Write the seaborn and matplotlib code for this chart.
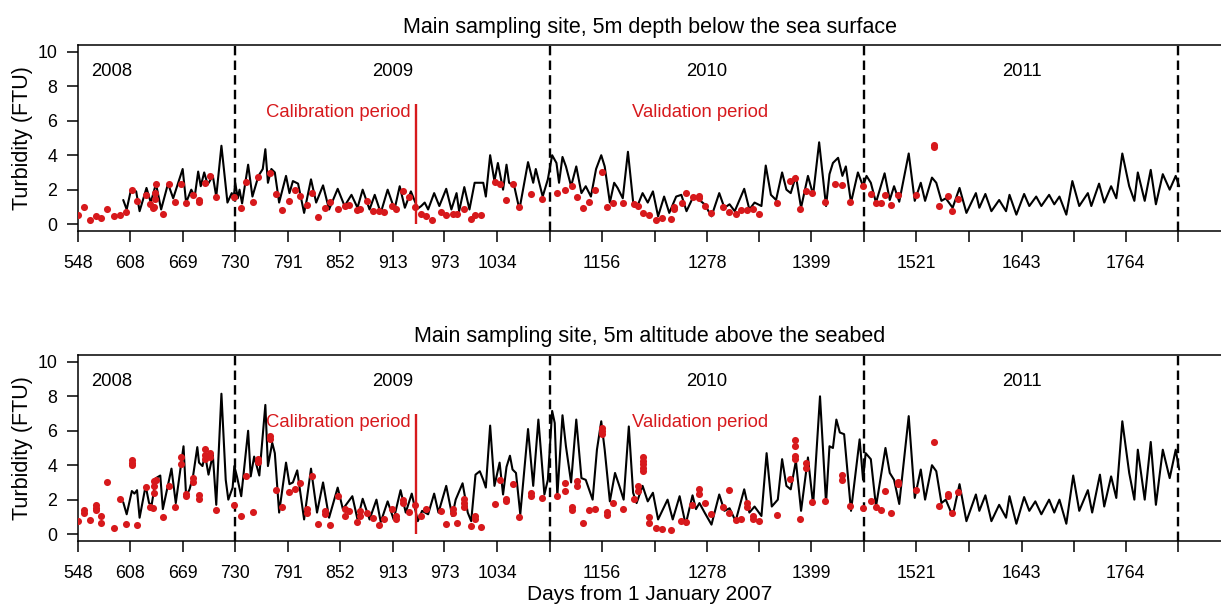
import pandas as pd
import seaborn as sns
import matplotlib.pyplot as plt

# Modelled turbidity, 5m below the surface (day from 1 Jan 2007, FTU)
surf_day = [600, 604, 609, 615, 619, 627, 632, 638, 644, 652, 658, 669, 673, 679, 683, 687, 690, 694,
            698, 704, 708, 714, 721, 726, 728, 730, 733, 735, 738, 745, 750, 757, 762, 765, 768, 772,
            776, 781, 789, 793, 797, 803, 810, 818, 824, 832, 839, 849, 857, 865, 872, 878, 886, 892,
            899, 907, 915, 921, 927, 934, 942, 946, 950, 954, 961, 967, 975, 981, 987, 990, 996, 1002,
            1008, 1014, 1018, 1021, 1026, 1031, 1035, 1041, 1045, 1048, 1054, 1060, 1070, 1076, 1079,
            1087, 1093, 1098, 1103, 1106, 1110, 1114, 1120, 1126, 1132, 1137, 1143, 1149, 1155, 1159,
            1165, 1170, 1174, 1180, 1186, 1192, 1197, 1203, 1209, 1215, 1221, 1228, 1234, 1242, 1248,
            1254, 1261, 1265, 1269, 1275, 1283, 1292, 1298, 1304, 1310, 1321, 1327, 1333, 1341, 1346,
            1352, 1358, 1365, 1370, 1375, 1381, 1387, 1395, 1401, 1408, 1416, 1420, 1424, 1430, 1435,
            1439, 1445, 1453, 1459, 1463, 1468, 1474, 1484, 1490, 1495, 1501, 1512, 1519, 1526, 1531,
            1539, 1544, 1550, 1555, 1563, 1571, 1579, 1590, 1594, 1601, 1608, 1617, 1625, 1629, 1637,
            1646, 1652, 1660, 1666, 1675, 1681, 1687, 1695, 1702, 1710, 1720, 1724, 1733, 1739, 1747,
            1753, 1760, 1768, 1774, 1778, 1786, 1793, 1799, 1807, 1815, 1822, 1826]
surf_ftu = [1.4, 0.85, 2.0, 1.9, 0.75, 2.1, 1.25, 2.35, 0.85, 2.35, 1.5, 3.2, 1.25, 2.0, 1.6, 3.05, 2.2, 3.0,
            2.3, 2.8, 1.6, 4.55, 1.25, 1.8, 1.4, 2.4, 1.5, 2.0, 1.2, 3.45, 1.6, 2.8, 3.2, 4.35, 2.4, 3.2,
            3.0, 1.25, 2.8, 1.8, 2.5, 2.35, 0.65, 2.6, 1.25, 2.25, 0.85, 2.05, 1.05, 1.7, 0.95, 2.0, 0.85, 1.7,
            0.65, 2.0, 0.85, 2.2, 0.95, 1.9, 0.9, 1.05, 1.25, 0.85, 1.8, 1.05, 2.05, 0.85, 1.8, 0.75, 2.15, 0.85,
            2.4, 2.4, 2.4, 1.6, 4.0, 2.5, 3.55, 2.0, 3.45, 2.4, 2.2, 0.85, 3.6, 2.4, 3.2,
            1.6, 2.6, 4.0, 3.55, 2.4, 3.9, 3.35, 2.2, 3.35, 1.8, 2.2, 1.6, 3.2, 4.0, 3.35,
            1.25, 2.4, 2.1, 1.5, 4.2, 1.3, 1.05, 1.8, 1.25, 1.9, 0.45, 1.6, 0.65, 1.6, 1.7,
            0.75, 1.5, 1.6, 1.4, 1.15, 0.45, 1.8, 0.95, 1.15, 0.75, 2.05, 0.85, 1.25, 1.05, 3.4,
            1.7, 1.4, 3.0, 2.0, 1.8, 2.8, 0.95, 2.8, 1.7, 4.75, 1.05, 2.9, 3.55, 3.85, 2.8,
            3.35, 1.25, 3.0, 2.2, 2.8, 2.4, 1.25, 2.95, 1.4, 2.2, 1.3, 4.1, 1.35, 2.4, 1.35,
            2.7, 2.4, 1.35, 1.5, 0.95, 2.1, 0.65, 1.8, 0.95, 1.75, 0.75, 1.4, 0.75, 1.7, 0.55,
            1.75, 1.05, 1.6, 1.05, 1.7, 1.15, 1.6, 0.55, 2.5, 1.05, 1.8, 1.05, 2.35, 1.25, 2.2,
            1.5, 4.1, 2.2, 1.35, 3.0, 1.35, 3.15, 1.15, 2.9, 2.0, 2.8, 2.2]

# Observed turbidity, 5m below the surface
surf_obs_day = [548, 554, 561, 568, 574, 581, 589, 596, 603, 610, 616, 626, 631, 634, 636, 637, 638, 637,
                646, 653, 660, 667, 673, 681, 688, 688, 695, 701, 708, 729, 737, 743, 751, 756, 770, 777,
                784, 792, 799, 805, 813, 819, 826, 834, 840, 849, 857, 862, 871, 875, 883, 890, 897, 903,
                912, 917, 925, 932, 939, 946, 952, 959, 969, 975, 983, 987, 996, 1004, 1009, 1015, 1032,
                1038, 1044, 1052, 1059, 1073, 1086, 1104, 1113, 1121, 1127, 1134, 1141, 1148, 1156, 1162,
                1169, 1180, 1193, 1198, 1204, 1211, 1219, 1226, 1236, 1240, 1240, 1249, 1253, 1261, 1268,
                1268, 1276, 1283, 1296, 1303, 1311, 1317, 1324, 1331, 1338, 1359, 1374, 1380, 1386, 1393,
                1400, 1415, 1426, 1435, 1444, 1459, 1468, 1474, 1480, 1485, 1492, 1500, 1520, 1541, 1541,
                1547, 1558, 1562, 1569]
surf_obs_ftu = [0.55, 1.0, 0.25, 0.45, 0.35, 0.9, 0.45, 0.55, 0.7, 2.0, 1.35, 1.7, 1.15, 0.95, 1.0, 1.8, 2.3, 1.45,
                0.6, 2.35, 1.3, 2.3, 1.25, 1.7, 1.4, 1.3, 2.4, 2.8, 1.6, 1.6, 0.95, 2.45, 1.3, 2.75, 2.95, 1.75,
                0.8, 1.35, 2.0, 1.65, 1.1, 1.8, 0.4, 0.95, 1.3, 0.9, 1.05, 1.1, 0.8, 0.9, 1.35, 0.75, 0.75, 0.7,
                1.05, 0.85, 1.95, 1.55, 1.0, 0.6, 0.45, 0.25, 0.7, 0.5, 0.6, 0.6, 0.85, 0.3, 0.55, 0.5, 2.45,
                2.3, 1.4, 2.3, 1.0, 1.75, 1.45, 1.8, 2.0, 2.2, 1.6, 0.95, 1.3, 2.0, 3.05, 1.0,
                1.25, 1.25, 1.15, 1.05, 0.65, 0.5, 0.25, 0.35, 0.3, 0.85, 1.0, 1.2, 1.8, 1.6, 1.65,
                1.5, 1.05, 0.65, 1.0, 0.7, 0.6, 0.8, 0.8, 0.9, 0.6, 1.2, 2.5, 2.65, 0.9, 1.95,
                1.8, 1.3, 2.35, 2.25, 1.3, 2.2, 1.75, 1.2, 1.2, 1.7, 1.1, 1.7, 1.7, 4.5, 4.6,
                1.05, 1.65, 0.75, 1.45]

# Modelled turbidity, 5m above the seabed
bed_day = [600, 604, 610, 613, 616, 619, 626, 630, 633, 638, 643, 646, 656, 661, 670, 673, 677, 681,
           686, 688, 692, 695, 699, 704, 708, 714, 719, 722, 727, 729, 732, 737, 745, 748, 752, 758,
           765, 768, 773, 776, 781, 789, 793, 797, 802, 810, 818, 825, 832, 839, 849, 855, 863, 866,
           872, 878, 886, 894, 899, 907, 914, 922, 928, 935, 942, 947, 954, 961, 966, 975, 982, 986,
           994, 1000, 1004, 1009, 1014, 1018, 1021, 1026, 1031, 1037, 1041, 1045, 1049, 1052, 1056,
           1061, 1070, 1076, 1082, 1089, 1093, 1098, 1101, 1104, 1110, 1114, 1120, 1126, 1132, 1137,
           1145, 1150, 1155, 1159, 1165, 1171, 1176, 1181, 1187, 1192, 1196, 1203, 1209, 1215, 1221,
           1232, 1238, 1246, 1253, 1261, 1265, 1269, 1275, 1283, 1292, 1298, 1304, 1311, 1321, 1327,
           1333, 1341, 1347, 1353, 1360, 1365, 1370, 1375, 1381, 1387, 1395, 1401, 1409, 1416, 1420,
           1424, 1428, 1432, 1437, 1445, 1455, 1459, 1462, 1468, 1474, 1485, 1490, 1495, 1501, 1512,
           1519, 1526, 1531, 1539, 1544, 1550, 1555, 1563, 1571, 1579, 1590, 1594, 1601, 1608, 1617,
           1625, 1629, 1637, 1646, 1652, 1659, 1666, 1675, 1681, 1687, 1695, 1703, 1710, 1720, 1725,
           1734, 1739, 1747, 1753, 1760, 1768, 1774, 1778, 1786, 1793, 1799, 1807, 1815, 1822, 1826]
bed_ftu = [1.85, 1.15, 2.5, 2.35, 2.55, 0.95, 2.8, 1.8, 1.7, 3.25, 3.4, 1.45, 3.8, 1.8, 5.1, 2.2, 2.6, 3.35,
           5.05, 4.15, 3.95, 4.6, 3.45, 4.6, 1.7, 8.15, 3.15, 2.0, 2.7, 3.95, 3.35, 2.2, 6.0, 3.35, 4.5, 3.4,
           7.5, 3.95, 5.3, 4.7, 1.25, 4.15, 2.9, 3.0, 3.7, 0.85, 3.8, 1.25, 3.0, 0.95, 2.7, 1.45, 2.0, 2.2,
           0.85, 2.05, 0.85, 2.0, 0.7, 1.9, 0.85, 2.55, 1.25, 2.35, 0.75, 1.35, 1.15, 2.35, 1.25, 2.8, 1.05, 2.0,
           2.95, 1.25, 0.75, 3.45, 3.65, 3.15, 2.7, 6.3, 2.8, 4.15, 2.3, 3.9, 4.55, 3.75, 3.55,
           1.15, 6.1, 2.8, 6.65, 2.3, 3.15, 7.15, 6.45, 2.2, 6.9, 5.1, 3.0, 6.65, 3.25, 3.15,
           2.0, 4.9, 6.55, 4.9, 1.9, 3.55, 2.8, 2.0, 6.25, 2.4, 1.8, 2.8, 1.9, 2.4, 0.85,
           2.0, 0.85, 2.2, 0.55, 2.25, 1.45, 1.8, 1.25, 0.55, 2.3, 1.35, 1.5, 0.75, 2.6, 1.25,
           1.6, 1.05, 4.7, 1.6, 2.0, 4.35, 2.8, 2.6, 4.25, 1.35, 4.45, 1.7, 8.0, 1.8, 5.1,
           5.0, 6.65, 5.9, 5.8, 1.35, 5.5, 3.15, 4.7, 4.35, 1.6, 5.0, 3.55, 3.15, 1.75, 6.85,
           2.1, 3.75, 2.0, 4.0, 3.65, 1.8, 2.0, 1.05, 2.9, 0.75, 2.3, 1.35, 2.25, 0.75, 1.7,
           0.95, 2.2, 0.6, 2.15, 1.35, 1.9, 1.15, 2.0, 1.25, 2.0, 0.6, 3.4, 1.35, 2.55, 1.25,
           3.45, 1.6, 3.35, 2.1, 6.55, 3.55, 2.0, 4.9, 2.0, 5.35, 1.7, 4.9, 3.25, 4.9, 3.75]

# Observed turbidity, 5m above the seabed
bed_obs_day = [548, 554, 554, 561, 568, 568, 568, 574, 574, 581, 589, 596, 603, 610, 610, 610, 616, 626,
               631, 634, 636, 636, 636, 638, 646, 653, 660, 667, 667, 673, 673, 681, 681, 688, 688, 695,
               695, 695, 701, 701, 708, 729, 737, 743, 751, 756, 756, 770, 770, 777, 784, 792, 799, 805,
               813, 813, 819, 826, 834, 834, 840, 849, 857, 857, 862, 871, 875, 875, 883, 890, 897, 903,
               912, 917, 917, 925, 925, 932, 939, 946, 952, 969, 975, 983, 983, 987, 996, 996, 996, 1004,
               1009, 1009, 1015, 1032, 1038, 1044, 1044, 1052, 1059, 1073, 1073, 1086, 1104, 1113, 1113,
               1121, 1121, 1127, 1127, 1134, 1141, 1148, 1156, 1156, 1156, 1162, 1162, 1169, 1180, 1193,
               1198, 1198, 1204, 1204, 1204, 1204, 1204, 1211, 1211, 1219, 1226, 1236, 1248, 1253, 1260,
               1268, 1268, 1276, 1283, 1296, 1303, 1303, 1311, 1317, 1324, 1324, 1331, 1331, 1338, 1359,
               1374, 1380, 1380, 1380, 1380, 1386, 1393, 1393, 1400, 1415, 1435, 1435, 1444, 1459, 1468,
               1474, 1480, 1485, 1492, 1500, 1500, 1520, 1541, 1547, 1558, 1558, 1562, 1569]
bed_obs_ftu = [0.75, 1.4, 1.25, 0.8, 1.7, 1.5, 1.4, 1.05, 0.65, 3.0, 0.35, 2.05, 0.6, 4.3, 4.15, 4.0, 0.55, 2.75,
               1.55, 1.5, 2.8, 3.1, 2.4, 3.15, 1.0, 2.8, 1.6, 4.45, 4.05, 2.35, 2.2, 3.25, 3.0, 2.25, 2.05, 4.95,
               4.6, 4.35, 4.7, 4.5, 1.4, 1.7, 1.05, 3.35, 1.3, 4.35, 4.2, 5.7, 5.5, 2.55, 1.55, 2.45, 2.6, 2.95,
               1.45, 1.2, 3.35, 0.6, 1.35, 1.15, 0.55, 2.2, 1.45, 1.05, 1.35, 0.7, 1.35, 1.05, 1.2, 0.95, 0.55, 0.85,
               1.45, 1.05, 0.85, 2.0, 1.8, 1.3, 1.7, 1.05, 1.45, 1.35, 0.6, 1.45, 1.2, 0.65, 2.05, 1.8, 1.6, 0.45,
               1.05, 0.85, 0.4, 1.75, 3.15, 2.05, 1.9, 2.9, 1.0, 2.4, 2.2, 2.1, 2.2, 2.95, 2.5,
               1.55, 1.4, 3.1, 2.8, 0.65, 1.4, 1.45, 6.15, 6.0, 5.8, 1.3, 1.1, 1.8, 1.45, 2.05,
               2.8, 2.5, 4.45, 4.25, 4.05, 3.85, 3.65, 1.0, 0.65, 0.35, 0.3, 0.25, 0.75, 0.7, 1.7,
               2.6, 2.35, 1.8, 1.15, 1.6, 2.55, 1.2, 0.8, 0.85, 1.8, 1.55, 1.05, 0.85, 0.75, 1.1,
               3.2, 5.45, 5.1, 4.55, 4.35, 0.85, 4.15, 3.85, 1.85, 1.9, 3.45, 3.15, 1.65, 1.5, 1.9,
               1.6, 1.4, 2.5, 1.2, 3.05, 2.9, 2.55, 5.35, 1.65, 2.3, 2.2, 1.2, 2.45]

tick_pos = [548, 608, 669, 730, 791, 852, 913, 973, 1034, 1095, 1156, 1217, 1278, 1338, 1399, 1460,
            1521, 1582, 1643, 1704, 1764, 1825]
tick_lab = ['548', '608', '669', '730', '791', '852', '913', '973', '1034', '', '1156', '', '1278', '',
            '1399', '', '1521', '', '1643', '', '1764', '']
year_ends = [730, 1095, 1460, 1825]
years = ['2008', '2009', '2010', '2011']
year_x = [587, 913, 1278, 1643]
split_day = 940  # end of calibration period

sns.set_style("ticks")
plt.rcParams['font.family'] = ['Liberation Sans', 'DejaVu Sans']
plt.rcParams.update({'text.color': 'black', 'axes.labelcolor': 'black',
                     'xtick.color': 'black', 'ytick.color': 'black',
                     'axes.edgecolor': 'black'})

RED = '#d7191c'
fig = plt.figure(figsize=(12.21, 6.09), dpi=100)
ax_top = fig.add_axes([0.0639, 0.6207, 0.9371, 0.3054])
ax_bot = fig.add_axes([0.0639, 0.1117, 0.9371, 0.3054])


def draw_panel(ax, title, day, ftu, obs_day, obs_ftu):
    model = pd.DataFrame({'day': day, 'ftu': ftu})
    obs = pd.DataFrame({'day': obs_day, 'ftu': obs_ftu})
    sns.lineplot(data=model, x='day', y='ftu', color='black', lw=1.5,
                 estimator=None, sort=False, ax=ax)
    sns.scatterplot(data=obs, x='day', y='ftu', color=RED, s=26, linewidth=0,
                    zorder=3, ax=ax)
    for d in year_ends:
        ax.axvline(d, color='black', lw=1.7, ls=(0, (4, 2.2)))
    ax.vlines(split_day, 0, 7, color=RED, lw=1.7)
    for x, yr in zip(year_x, years):
        ax.text(x, 8.6, yr, ha='center', va='baseline', fontsize=13.3)
    ax.text(850, 6.23, 'Calibration period', color=RED, ha='center', va='baseline', fontsize=13.3)
    ax.text(1270, 6.23, 'Validation period', color=RED, ha='center', va='baseline', fontsize=13.3)

    ax.set_xlim(547.5, 1876)
    ax.set_ylim(-0.4, 10.4)
    ax.set_yticks([0, 2, 4, 6, 8, 10])
    ax.set_xticks(tick_pos, tick_lab)
    ax.tick_params(length=8, width=1.1, labelsize=12.8, color='black', labelcolor='black')
    ax.tick_params(axis='x', pad=9)
    ax.tick_params(axis='y', pad=7)
    ax.set_title(title, fontsize=15.5, pad=9, color='black')
    ax.set_ylabel('Turbidity (FTU)', fontsize=15.5)
    ax.yaxis.set_label_coords(-0.039, 0.5)
    ax.set_xlabel('')
    for sp in ax.spines.values():
        sp.set_linewidth(1.1)
        sp.set_color('black')


draw_panel(ax_top, 'Main sampling site, 5m depth below the sea surface',
           surf_day, surf_ftu, surf_obs_day, surf_obs_ftu)
draw_panel(ax_bot, 'Main sampling site, 5m altitude above the seabed',
           bed_day, bed_ftu, bed_obs_day, bed_obs_ftu)
ax_bot.set_xlabel('Days from 1 January 2007', fontsize=15)
ax_bot.xaxis.set_label_coords(0.5, -0.237)

fig.savefig('out.png', dpi=100)
